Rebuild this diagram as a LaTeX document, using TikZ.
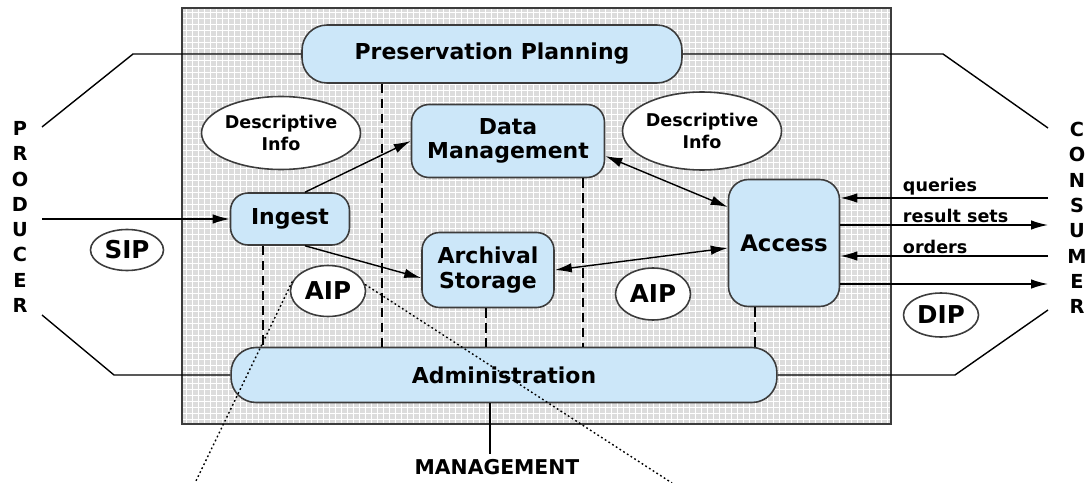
\documentclass[tikz,border=0pt]{standalone}
\usepackage{fontspec}
\setmainfont{DejaVu Sans}
\usetikzlibrary{arrows.meta, shapes.geometric}
\definecolor{boxblue}{RGB}{204,231,249}
\definecolor{bggray}{RGB}{220,220,220}
\definecolor{edgegray}{RGB}{60,60,60}

\begin{document}
\begin{tikzpicture}[x=0.02cm,y=-0.02cm,>={Latex[length=3.4mm,width=1.9mm]},
  func/.style={draw=edgegray,line width=0.9pt,fill=boxblue,rectangle,rounded corners=0.35cm,
    align=center,inner sep=0pt,font=\bfseries\fontsize{12.5}{13.5}\selectfont},
  pkg/.style={draw=edgegray,line width=0.9pt,fill=white,ellipse,inner sep=0pt,
    align=center,font=\bfseries\fontsize{14}{16}\selectfont},
  info/.style={pkg,font=\bfseries\fontsize{10}{12.5}\selectfont},
  letters/.style={align=center,inner sep=0pt,font=\bfseries\fontsize{11}{14.4}\selectfont},
  lbl/.style={inner sep=1pt,font=\bfseries\fontsize{10}{12}\selectfont},
  flow/.style={line width=0.8pt},
  tie/.style={line width=0.8pt,dash pattern=on 5.5pt off 3pt},
  dots/.style={line width=0.8pt,dash pattern=on 1pt off 1.5pt}]
  \useasboundingbox (0,0) rectangle (1086,483);
  % archive background
  \fill[bggray] (182,8) rectangle (891,424);
  \draw[white,line width=0.5pt,step=0.12cm] (182,8) grid (891,424);
  \draw[edgegray,line width=0.9pt] (182,8) rectangle (891,424);

  % functional entities
  \node[func,minimum width=7.6cm,minimum height=1.16cm,rounded corners=0.5cm] (pp) at (492,54) {Preservation Planning};
  \node[func,minimum width=3.86cm,minimum height=1.46cm] (dm) at (508,141) {Data\\Management};
  \node[func,minimum width=2.38cm,minimum height=1.04cm] (ingest) at (290,219) {Ingest};
  \node[func,minimum width=2.64cm,minimum height=1.5cm,font=\bfseries\fontsize{12.5}{14}\selectfont] (as) at (488,270) {Archival\\Storage};
  \node[func,minimum width=2.22cm,minimum height=2.54cm,rounded corners=0.4cm,font=\bfseries\fontsize{13}{15}\selectfont] (access) at (784,243) {Access};
  \node[func,minimum width=10.92cm,minimum height=1.1cm,rounded corners=0.5cm] (admin) at (504,375) {Administration};

  % information packages
  \node[info,minimum width=3.06cm,minimum height=1.46cm] (descin) at (281,133) {Descriptive\\Info};
  \node[info,minimum width=3.04cm,minimum height=1.56cm] (descout) at (702,131) {Descriptive\\Info};
  \node[pkg,minimum width=1.46cm,minimum height=0.82cm] (sip) at (127,250) {SIP};
  \node[pkg,minimum width=1.5cm,minimum height=1.02cm] (aipin) at (328,291) {AIP};
  \node[pkg,minimum width=1.5cm,minimum height=1.04cm] (aipout) at (653,294) {AIP};
  \node[pkg,minimum width=1.5cm,minimum height=0.88cm] (dip) at (941,315) {DIP};

  % outside parties
  \node[letters] (producer) at (20,217) {P\\R\\O\\D\\U\\C\\E\\R};
  \node[letters] (consumer) at (1077,218) {C\\O\\N\\S\\U\\M\\E\\R};
  \node[inner sep=3pt,font=\bfseries\fontsize{11.6}{14}\selectfont] (mgmt) at (497,467) {MANAGEMENT};

  % flows inside
  \draw[flow,->] ([xshift=0.3cm]ingest.north) -- (dm.west);
  \draw[flow,->] ([xshift=0.3cm]ingest.south) -- ([yshift=-0.16cm]as.west);
  \draw[flow,<->] ([yshift=-0.3cm]dm.east) -- ([yshift=0.72cm]access.west);
  \draw[flow,<->] (as.east) -- ([yshift=-0.1cm]access.west);
  \foreach \x/\top in {263/ingest, 382/pp, 486/as, 583/dm, 755/access}
    \draw[tie] (\top.south -| \x,0) -- (admin.north -| \x,0);

  % producer side
  \coordinate (ptop) at (42,127);
  \coordinate (ptopbend) at (133,54);
  \coordinate (pin) at (42,219);
  \coordinate (pbot) at (42,315);
  \coordinate (pbotbend) at (114,375);
  \draw[flow] (ptop) -- (ptopbend) -- (pp.west);
  \draw[flow,->] (pin) -- (ingest.west);
  \draw[flow] (pbot) -- (pbotbend) -- (admin.west);

  % consumer side
  \coordinate (ctop) at (1048,128);
  \coordinate (ctopbend) at (943,54);
  \coordinate (cbot) at (1048,310);
  \coordinate (cbotbend) at (955,375);
  \draw[flow] (pp.east) -- (ctopbend) -- (ctop);
  \draw[flow] (admin.east) -- (cbotbend) -- (cbot);
  \coordinate (cq) at (1048,198);
  \coordinate (cr) at (1048,225);
  \coordinate (co) at (1048,256);
  \coordinate (cd) at (1048,284);
  \draw[flow,->] (cq) -- (cq -| access.east) node[lbl,pos=0.71,anchor=south west] {queries};
  \draw[flow,->] (cr -| access.east) -- (cr) node[lbl,pos=0.29,anchor=south west] {result sets};
  \draw[flow,->] (co) -- (co -| access.east) node[lbl,pos=0.71,anchor=south west] {orders};
  \draw[flow,->] (cd -| access.east) -- (cd);

  % management
  \draw[flow] (admin.south -| 490,0) -- (mgmt.north -| 490,0);

  % AIP call-out
  \coordinate (aipa) at (195,483);
  \coordinate (aipb) at (672,483);
  \draw[dots] (aipin.165) -- (aipa);
  \draw[dots] (aipin.10) -- (aipb);
\end{tikzpicture}
\end{document}
